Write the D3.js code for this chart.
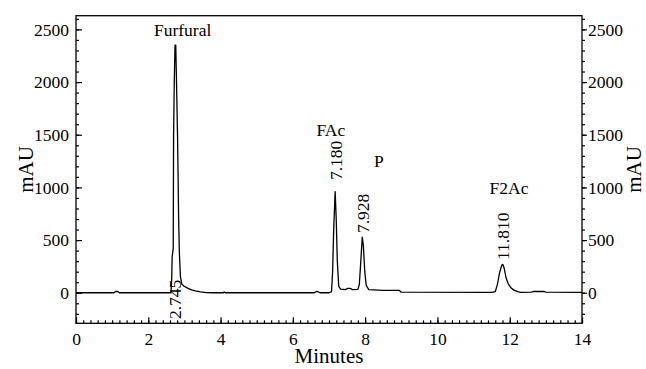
<!DOCTYPE html>
<html>
<head>
<meta charset="utf-8">
<script src="https://cdn.jsdelivr.net/npm/d3@7"></script>
<style>
  body { margin: 0; background: #fff; }
  text { font-family: "Liberation Serif", "Times New Roman", serif; fill: #000; }
</style>
</head>
<body>
<div id="chart"></div>
<script>
// chromatogram trace (minutes, mAU)
const minutes = [0.00, 1.05, 1.10, 1.16, 1.20, 2.60, 2.63, 2.65, 2.66, 2.69, 2.70, 2.72, 2.74, 2.76, 2.78, 2.81, 2.84, 2.86, 2.89, 2.93,
  3.00, 3.10, 3.20, 3.30, 3.45, 3.60, 3.80, 4.08, 4.10, 4.13, 6.60, 6.65, 6.70, 6.75, 7.00, 7.07, 7.10, 7.13, 7.17, 7.20,
  7.23, 7.27, 7.32, 7.45, 7.52, 7.58, 7.65, 7.80, 7.84, 7.88, 7.92, 7.95, 7.99, 8.03, 8.10, 8.50, 8.95, 9.00, 11.50, 11.60,
  11.66, 11.72, 11.78, 11.81, 11.85, 11.90, 11.96, 12.04, 12.12, 12.22, 12.30, 12.60, 12.65, 12.95, 13.00, 14.00]
const mAU = [0, 0, 12, 12, 0, 0, 0, 150, 340, 420, 1480, 2020, 2350, 2350, 2020, 1480, 700, 380, 150, 80,
  60, 42, 28, 18, 8, 2, 0, 0, 8, 0, 0, 12, 10, 0, 0, 10, 200, 600, 960, 700,
  300, 60, 35, 30, 42, 42, 30, 32, 80, 300, 528, 450, 200, 70, 30, 22, 22, 5, 3, 10,
  80, 190, 262, 268, 230, 140, 85, 45, 25, 10, 4, 5, 12, 12, 5, 3]

// peak annotations: retention time label and compound name
const peakTimes = [2.745, 7.180, 7.928, 11.810]
const peakLabels = ["2.745", "7.180", "7.928", "11.810"]
const labelBase = [-250, 1070, 567, 311]      // mAU where rotated label starts
const names = ["Furfural", "FAc", "P", "F2Ac"]
const nameX = [2.95, 7.05, 8.38, 11.98]
const nameY = [2440, 1490, 1190, 935]

const xTicks = [0, 2, 4, 6, 8, 10, 12, 14]
const yTicks = [0, 500, 1000, 1500, 2000, 2500]

let width = 646
let height = 369
let plotLeft = 76, plotRight = 582, plotTop = 15.7, plotBottom = 323.3
const serif = '"Liberation Serif", "Times New Roman", serif'

const x = d3.scaleLinear().domain([0, 14]).range([plotLeft, plotRight])
const y = d3.scaleLinear().domain([-290, 2630]).range([plotBottom, plotTop])

const svg = d3.select("#chart").append("svg")
  .attr("width", width)
  .attr("height", height)

// frame
svg.append("rect")
  .attr("x", plotLeft).attr("y", plotTop)
  .attr("width", plotRight - plotLeft).attr("height", plotBottom - plotTop)
  .attr("fill", "none").attr("stroke", "#000").attr("stroke-width", 1.3)

function styleAxis(g) {
  g.attr("font-family", serif).attr("font-size", 17.5)
  g.select(".domain").remove()
  g.selectAll("line").attr("stroke", "#000").attr("stroke-width", 1.2)
  g.selectAll("text").style("font-family", serif).style("font-size", "17.5px")
}

// bottom axis, ticks inward
svg.append("g").attr("transform", `translate(0,${plotBottom})`)
  .call(d3.axisBottom(x).tickValues(d3.range(0, 14.01, 0.2)).tickSize(-3).tickFormat(""))
  .call(styleAxis)
svg.append("g").attr("transform", `translate(0,${plotBottom})`)
  .call(d3.axisBottom(x).tickValues(xTicks).tickSize(-6).tickPadding(9).tickFormat(d3.format("d")))
  .call(styleAxis)

// left axis, ticks inward
svg.append("g").attr("transform", `translate(${plotLeft},0)`)
  .call(d3.axisLeft(y).tickValues(d3.range(-200, 2601, 100)).tickSize(-3).tickFormat(""))
  .call(styleAxis)
svg.append("g").attr("transform", `translate(${plotLeft},0)`)
  .call(d3.axisLeft(y).tickValues(yTicks).tickSize(-6).tickPadding(7).tickFormat(d3.format("d")))
  .call(styleAxis)

// right axis, ticks outward
svg.append("g").attr("transform", `translate(${plotRight},0)`)
  .call(d3.axisRight(y).tickValues(d3.range(-200, 2601, 100)).tickSize(3).tickFormat(""))
  .call(styleAxis)
svg.append("g").attr("transform", `translate(${plotRight},0)`)
  .call(d3.axisRight(y).tickValues(yTicks).tickSize(5).tickPadding(1).tickFormat(d3.format("d")))
  .call(styleAxis)

// axis titles
svg.append("text")
  .attr("x", (plotLeft + plotRight) / 2).attr("y", 363)
  .attr("text-anchor", "middle")
  .style("font-size", "21px")
  .text("Minutes")

svg.append("text")
  .attr("transform", `translate(33,${(plotTop + plotBottom) / 2}) rotate(-90)`)
  .attr("text-anchor", "middle")
  .style("font-size", "21px")
  .text("mAU")

svg.append("text")
  .attr("transform", `translate(641,${(plotTop + plotBottom) / 2}) rotate(-90)`)
  .attr("text-anchor", "middle")
  .style("font-size", "21px")
  .text("mAU")

// trace
const pts = minutes.map((m, i) => [m, mAU[i]])
svg.append("path")
  .datum(pts)
  .attr("fill", "none")
  .attr("stroke", "#000")
  .attr("stroke-width", 1.3)
  .attr("stroke-linejoin", "round")
  .attr("d", d3.line().x(d => x(d[0])).y(d => y(d[1])))

// rotated retention times
peakTimes.forEach((t, i) => {
  svg.append("text")
    .attr("transform", `translate(${x(t)},${y(labelBase[i])}) rotate(-90)`)
    .attr("dy", "0.35em")
    .style("font-size", "17.5px")
    .text(peakLabels[i])
})

// compound names
names.forEach((n, i) => {
  svg.append("text")
    .attr("x", x(nameX[i]))
    .attr("y", y(nameY[i]))
    .attr("text-anchor", "middle")
    .style("font-size", "17.5px")
    .text(n)
})
</script>
</body>
</html>
